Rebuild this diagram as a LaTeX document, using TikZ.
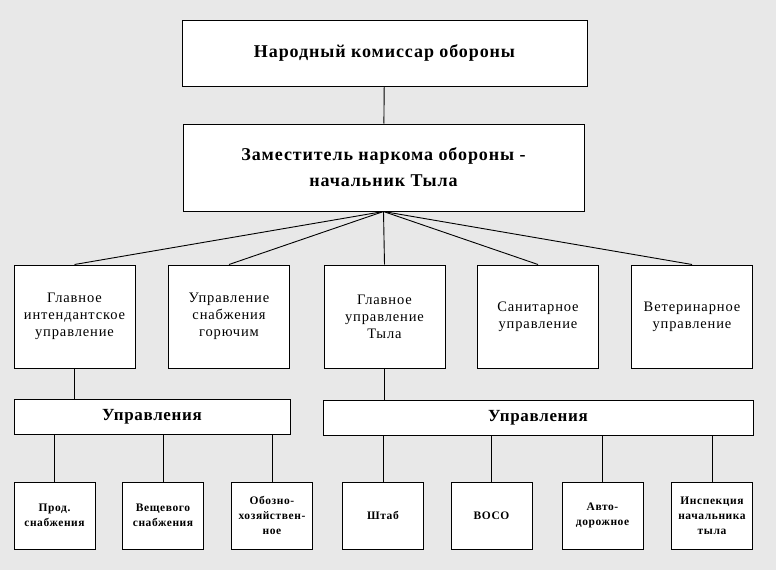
\documentclass[tikz,border=0pt]{standalone}
\usepackage{fontspec}
\setmainfont{Liberation Serif}
\usetikzlibrary{positioning}

\begin{document}
\begin{tikzpicture}[
        x=1pt, y=-1pt,
        every node/.style={draw, fill=white, align=center, line width=1pt, inner sep=2pt},
        headbox/.style={minimum height=66pt, font=\fontsize{18}{26}\selectfont\bfseries\addfontfeature{LetterSpace=5}},
        deptbox/.style={minimum width=121pt, minimum height=103pt, text width=117pt, font=\fontsize{14.5}{17}\selectfont\addfontfeature{LetterSpace=6}},
        groupbox/.style={minimum height=35pt, font=\fontsize{17}{20}\selectfont\bfseries\addfontfeature{LetterSpace=4}},
        unitbox/.style={minimum width=81pt, minimum height=67pt, text width=77pt, font=\fontsize{11.5}{15}\selectfont\bfseries\addfontfeature{LetterSpace=5}},
        link/.style={line width=0.9pt}
        ]

        % Page and background
        \useasboundingbox (0,0) rectangle (776,570);
        \fill[black!9] (0,0) rectangle (776,570);

        % Top of the chain
        \node[headbox, minimum width=405pt] (commissar) at (384.5,53) {Народный комиссар обороны};
        \node[headbox, minimum width=401pt, minimum height=87pt] (deputy) at (383.5,167.5) {Заместитель наркома обороны -\\начальник Тыла};

        % Main directorates
        \node[deptbox] (intend) at (74.5,316.5) {Главное\\интендантское\\управление};
        \node[deptbox] (fuel) at (229,316.5) {Управление\\снабжения\\горючим};
        \node[deptbox] (rear) at (384.5,316.5) {Главное\\управление\\Тыла};
        \node[deptbox] (sanit) at (538,316.5) {Санитарное\\управление};
        \node[deptbox] (veter) at (692,316.5) {Ветеринарное\\управление};

        % Groups of directorates
        \node[groupbox, minimum width=276pt] (groupL) at (152,416.5) {Управления};
        \node[groupbox, minimum width=430pt] (groupR) at (538,417.5) {Управления};

        % Bottom level
        \node[unitbox] (food) at (54.5,515.5) {Прод.\\снабжения};
        \node[unitbox] (cloth) at (163,515.5) {Вещевого\\снабжения};
        \node[unitbox] (train) at (272,515.5) {Обозно-\\хозяйствен-\\ное};
        \node[unitbox] (staff) at (383,515.5) {Штаб};
        \node[unitbox] (voso) at (491.5,515.5) {ВОСО};
        \node[unitbox] (road) at (602.5,515.5) {Авто-\\дорожное};
        \node[unitbox] (inspect) at (712,515.5) {Инспекция\\начальника\\тыла};

        % Connectors
        \draw[link] (commissar) -- (deputy);
        \foreach \d in {intend, fuel, rear, sanit, veter}
        \draw[link] (deputy.south) -- (\d.north);
        \draw[link] (intend) -- (groupL.north -| intend);
        \draw[link] (rear) -- (groupR.north -| rear);
        \foreach \u in {food, cloth, train}
        \draw[link] (groupL.south -| \u) -- (\u);
        \foreach \u in {staff, voso, road, inspect}
        \draw[link] (groupR.south -| \u) -- (\u);
    \end{tikzpicture}
\end{document}
